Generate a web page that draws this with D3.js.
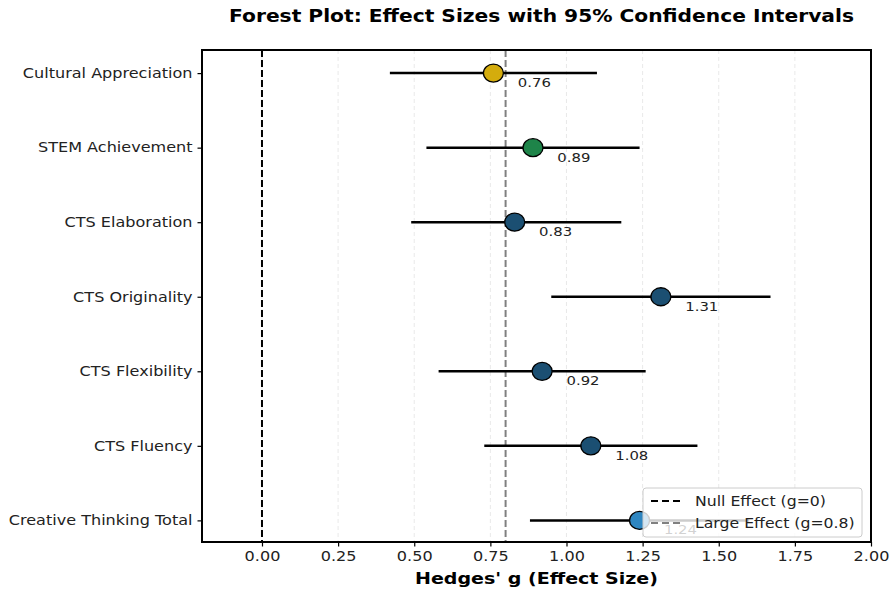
<!DOCTYPE html>
<html>
<head>
<meta charset="utf-8">
<script src="https://cdn.jsdelivr.net/npm/d3@7"></script>
<style>
  body { margin: 0; background: #fff; }
  svg text { font-family: "DejaVu Sans", sans-serif; }
</style>
</head>
<body>
<div id="chart"></div>
<script>
var svgWidth = 892;
var svgHeight = 593;

var margin = { top: 50, right: 21, bottom: 51, left: 202 };
var width = svgWidth - margin.left - margin.right;
var height = svgHeight - margin.top - margin.bottom;

// the reference text is a bit wide, so stretch it horizontally
var sx = 1.19;

// outcomes, bottom to top
var outcomes = ["Creative Thinking Total", "CTS Fluency", "CTS Flexibility", "CTS Originality",
  "CTS Elaboration", "STEM Achievement", "Cultural Appreciation"];
var effects = [1.24, 1.08, 0.92, 1.31, 0.83, 0.89, 0.76];
var ciLow = [0.88, 0.73, 0.58, 0.95, 0.49, 0.54, 0.42];
var ciHigh = [1.60, 1.43, 1.26, 1.67, 1.18, 1.24, 1.10];
var colors = ["#2E86C1", "#1B4F72", "#1B4F72", "#1B4F72", "#1B4F72", "#1E8449", "#D4AC0D"];
var xTicks = [0, 0.25, 0.5, 0.75, 1.0, 1.25, 1.5, 1.75, 2.0];

var data = outcomes.map(function(d, i) {
  return { name: d, idx: i, g: effects[i], lo: ciLow[i], hi: ciHigh[i], color: colors[i] };
});

var svg = d3.select("#chart")
  .append("svg")
  .attr("width", svgWidth)
  .attr("height", svgHeight);

var chartGroup = svg.append("g")
  .attr("transform", `translate(${margin.left}, ${margin.top})`);

var xScale = d3.scaleLinear().domain([-0.197, 2.0]).range([0, width]);
var yScale = d3.scaleLinear().domain([-0.29, 6.31]).range([height, 0]);

function wideText(parent, x, y, str) {
  return parent.append("g")
    .attr("transform", `translate(${x}, ${y}) scale(${sx}, 1)`)
    .append("text").text(str);
}

// x grid
chartGroup.selectAll(".grid").data(xTicks).enter().append("line")
  .attr("x1", d => xScale(d)).attr("x2", d => xScale(d))
  .attr("y1", 0).attr("y2", height)
  .attr("stroke", "#b0b0b0").attr("stroke-opacity", 0.35)
  .attr("stroke-dasharray", "4,3").attr("stroke-width", 0.8);

// reference lines
chartGroup.append("line")
  .attr("x1", xScale(0)).attr("x2", xScale(0)).attr("y1", 0).attr("y2", height)
  .attr("stroke", "#000").attr("stroke-width", 2).attr("stroke-dasharray", "7,3");
chartGroup.append("line")
  .attr("x1", xScale(0.8)).attr("x2", xScale(0.8)).attr("y1", 0).attr("y2", height)
  .attr("stroke", "#808080").attr("stroke-width", 2).attr("stroke-dasharray", "7,3");

// CI lines
chartGroup.selectAll(".ci").data(data).enter().append("line")
  .attr("x1", d => xScale(d.lo)).attr("x2", d => xScale(d.hi))
  .attr("y1", d => yScale(d.idx)).attr("y2", d => yScale(d.idx))
  .attr("stroke", "#000").attr("stroke-width", 2.5);

// points
chartGroup.selectAll(".pt").data(data).enter().append("ellipse")
  .attr("cx", d => xScale(d.g)).attr("cy", d => yScale(d.idx))
  .attr("rx", 10).attr("ry", 9)
  .attr("fill", d => d.color)
  .attr("stroke", "#000").attr("stroke-width", 1.3);

// value labels
data.forEach(function(d) {
  wideText(chartGroup, xScale(d.g + 0.08), yScale(d.idx) + 14, d.g.toFixed(2))
    .attr("font-size", 12.5)
    .attr("fill", "#222");
});

// axes
var bottomAxis = d3.axisBottom(xScale).tickValues(xTicks).tickFormat(d3.format(".2f"))
  .tickSize(4.5).tickPadding(5);
var leftAxis = d3.axisLeft(yScale).tickValues(d3.range(outcomes.length))
  .tickFormat(i => outcomes[i]).tickSize(4.5).tickPadding(5);

var xAxisG = chartGroup.append("g")
  .attr("transform", `translate(0, ${height})`)
  .call(bottomAxis);
var yAxisG = chartGroup.append("g").call(leftAxis);
[xAxisG, yAxisG].forEach(function(g) {
  g.select(".domain").remove();
  g.selectAll("line").attr("stroke", "#000").attr("stroke-width", 1.2);
  g.selectAll("text").attr("font-size", 13.5).attr("fill", "#222")
    .style("font-family", "DejaVu Sans, sans-serif")
    .attr("transform", `scale(${sx}, 1)`);
});
yAxisG.selectAll("text").attr("x", -9.5 / sx);

// frame
chartGroup.append("rect")
  .attr("width", width).attr("height", height)
  .attr("fill", "none").attr("stroke", "#000").attr("stroke-width", 2);

// legend
var legend = chartGroup.append("g")
  .attr("transform", `translate(${width - 228}, ${height - 54})`);
legend.append("rect")
  .attr("width", 219).attr("height", 49).attr("rx", 3)
  .attr("fill", "#fff").attr("fill-opacity", 0.8)
  .attr("stroke", "#ccc").attr("stroke-width", 1);
var legendItems = [
  { label: "Null Effect (g=0)", color: "#000" },
  { label: "Large Effect (g=0.8)", color: "#808080" }
];
legendItems.forEach(function(item, i) {
  var y = 13 + i * 22;
  legend.append("line")
    .attr("x1", 8).attr("x2", 40).attr("y1", y).attr("y2", y)
    .attr("stroke", item.color).attr("stroke-width", 2).attr("stroke-dasharray", "7,4");
  wideText(legend, 52, y + 5, item.label)
    .attr("font-size", 13.2).attr("fill", "#222");
});

// title and axis label
wideText(svg, margin.left + width / 2 + 5, 22, "Forest Plot: Effect Sizes with 95% Confidence Intervals")
  .attr("text-anchor", "middle")
  .attr("font-size", 17).attr("font-weight", "bold");

wideText(svg, margin.left + width / 2, svgHeight - 9, "Hedges' g (Effect Size)")
  .attr("text-anchor", "middle")
  .attr("font-size", 16).attr("font-weight", "bold");
</script>
</body>
</html>
